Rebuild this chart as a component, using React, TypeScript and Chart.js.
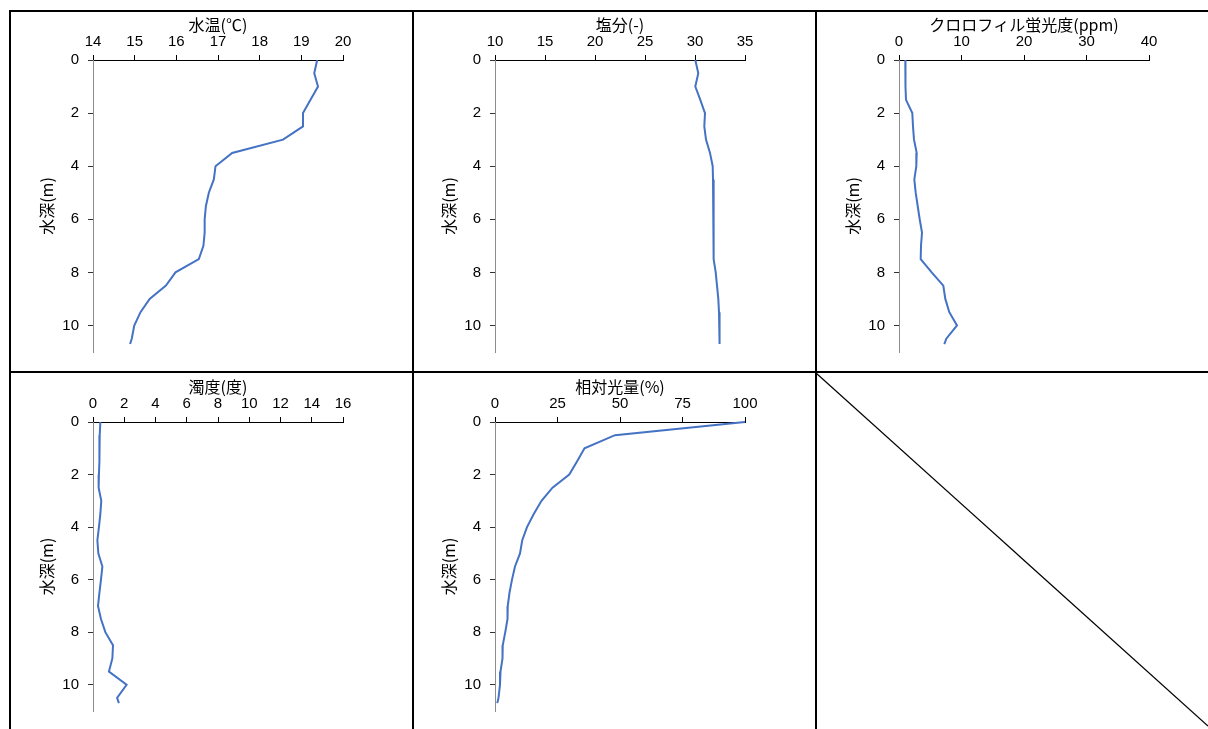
import React, { useEffect, useRef } from "react";
import { Chart, registerables } from "chart.js";

Chart.register(...registerables);

// ---- Data ----
const depths = [0, 0.5, 1, 1.5, 2, 2.5, 3, 3.5, 4, 4.5, 5, 5.5, 6, 6.5, 7, 7.5, 8, 8.5, 9, 9.5, 10, 10.5, 10.7];

const waterTemp = [19.38, 19.31, 19.4, 19.22, 19.04, 19.04, 18.56, 17.34, 16.94, 16.9, 16.78, 16.71, 16.68, 16.68, 16.65, 16.54, 15.98, 15.75, 15.36, 15.14, 14.99, 14.93, 14.89];
const salinity = [30.03, 30.33, 30.03, 30.53, 31.0, 30.93, 31.1, 31.5, 31.77, 31.8, 31.83, 31.87, 31.87, 31.87, 31.87, 31.87, 32.07, 32.2, 32.33, 32.4, 32.43, 32.47, 32.47];
const chlorophyll = [1.01, 1.0, 1.07, 1.12, 2.13, 2.24, 2.4, 2.83, 2.77, 2.45, 2.67, 2.99, 3.31, 3.68, 3.52, 3.47, 5.23, 7.09, 7.41, 8.05, 9.28, 7.57, 7.25];
const turbidity = [0.47, 0.43, 0.41, 0.41, 0.38, 0.36, 0.53, 0.47, 0.38, 0.28, 0.34, 0.6, 0.51, 0.41, 0.32, 0.51, 0.79, 1.28, 1.24, 1.02, 2.15, 1.54, 1.66];
const relativeLight = [100, 48.0, 35.8, 32.8, 29.7, 23.0, 18.6, 15.5, 12.8, 10.9, 10.0, 8.0, 6.8, 5.8, 5.1, 5.0, 4.1, 3.1, 3.0, 2.2, 2.0, 1.4, 0.9];

const titles = ["水温(℃)", "塩分(-)", "クロロフィル蛍光度(ppm)", "濁度(度)", "相対光量(%)"];
const xMins = [14, 10, 0, 0, 0];
const xMaxs = [20, 35, 40, 16, 100];
const xSteps = [1, 5, 10, 2, 25];
const depthTitle = "水深(m)";
const depthMax = 11;
const depthStep = 2;

const FONT = '"Liberation Sans", "Noto Sans CJK JP", sans-serif';
const TITLE_FONT = '"Noto Sans CJK JP", "Liberation Sans", sans-serif';

type PanelProps = {
  left: number;
  top: number;
  width: number;
  height: number;
  title: string;
  values: number[];
  min: number;
  max: number;
  step: number;
};

function Panel({ left, top, width, height, title, values, min, max, step }: PanelProps) {
  const ref = useRef<HTMLCanvasElement | null>(null);
  useEffect(() => {
    if (!ref.current) return;
    const yAxisW = 81;
    const xAxisH = 48;
    const plotW = 250;
    const plotH = 299;
    const chart = new Chart(ref.current, {
      type: "scatter",
      data: {
        datasets: [
          {
            data: depths.map((d, i) => ({ x: values[i], y: d })),
            showLine: true,
            borderColor: "#4472C4",
            backgroundColor: "#4472C4",
            borderWidth: 2,
            pointRadius: 0,
            pointHoverRadius: 0,
            tension: 0,
            fill: false,
            clip: false,
          } as any,
        ],
      },
      options: {
        animation: false,
        responsive: false,
        maintainAspectRatio: false,
        events: [],
        layout: {
          padding: { left: 0, top: 0, right: width - yAxisW - plotW, bottom: height - xAxisH - plotH },
        },
        plugins: { legend: { display: false }, tooltip: { enabled: false } },
        scales: {
          x: {
            type: "linear",
            position: "top",
            min,
            max,
            ticks: {
              stepSize: step,
              includeBounds: false,
              autoSkip: false,
              maxRotation: 0,
              color: "#000",
              padding: 4,
              font: { family: FONT, size: 15 },
            },
            grid: { drawOnChartArea: false, drawTicks: true, tickLength: 5, color: "#000" },
            border: { display: true, color: "#000", width: 1 },
            title: {
              display: true,
              text: title,
              color: "#000",
              font: { family: TITLE_FONT, size: 16 },
              padding: { top: 3, bottom: 0 },
            },
            afterFit: (s: any) => {
              s.height = xAxisH;
            },
          },
          y: {
            type: "linear",
            position: "left",
            reverse: true,
            min: 0,
            max: depthMax,
            ticks: {
              stepSize: depthStep,
              includeBounds: false,
              autoSkip: false,
              color: "#000",
              padding: 9,
              font: { family: FONT, size: 15 },
            },
            grid: { drawOnChartArea: false, drawTicks: true, tickLength: 5, color: "#333" },
            border: { display: true, color: "#8c8c8c", width: 1 },
            title: {
              display: true,
              text: depthTitle,
              color: "#000",
              font: { family: TITLE_FONT, size: 16 },
              padding: { top: 25, bottom: 0 },
            },
            afterFit: (s: any) => {
              s.width = yAxisW;
            },
          },
        },
      } as any,
    });
    return () => chart.destroy();
  }, [width, height, title, values, min, max, step]);

  return (
    <canvas
      ref={ref}
      width={width}
      height={height}
      style={{ position: "absolute", left, top, width, height }}
    />
  );
}

const lineStyle = (l: number, t: number, w: number, h: number): React.CSSProperties => ({
  position: "absolute",
  left: l,
  top: t,
  width: w,
  height: h,
  background: "#000",
});

export default function App() {
  const colLefts = [12, 414, 818];
  const colWidths = [398, 399, 390];
  const rowTops = [12, 374];
  const rowHeights = [358, 355];
  const series = [waterTemp, salinity, chlorophyll, turbidity, relativeLight];

  return (
    <div style={{ position: "absolute", left: 0, top: 0, width: 1208, height: 729, overflow: "hidden", background: "#fff" }}>
      {series.map((vals, i) => {
        const r = Math.floor(i / 3);
        const c = i % 3;
        return (
          <Panel
            key={i}
            left={colLefts[c]}
            top={rowTops[r]}
            width={colWidths[c]}
            height={rowHeights[r]}
            title={titles[i]}
            values={vals}
            min={xMins[i]}
            max={xMaxs[i]}
            step={xSteps[i]}
          />
        );
      })}
      {/* grid borders */}
      <div style={lineStyle(9, 10, 1199, 2)} />
      <div style={lineStyle(9, 10, 2, 719)} />
      <div style={lineStyle(412, 10, 2, 719)} />
      <div style={lineStyle(815, 10, 2, 719)} />
      <div style={lineStyle(9, 371, 1199, 2)} />
      <svg
        width={1208}
        height={729}
        style={{ position: "absolute", left: 0, top: 0, pointerEvents: "none" }}
      >
        <line x1={816} y1={373} x2={1208} y2={726} stroke="#000" strokeWidth={1.2} />
      </svg>
    </div>
  );
}
